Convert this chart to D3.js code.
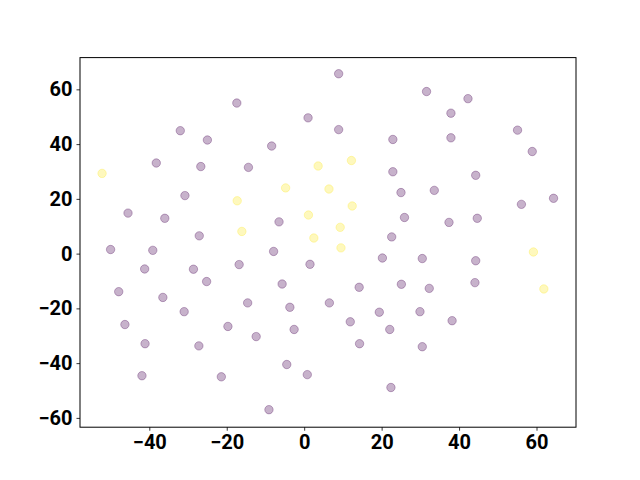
<!DOCTYPE html>
<html>
<head>
<meta charset="utf-8">
<script src="https://cdn.jsdelivr.net/npm/d3@7"></script>
<style>
  body { margin: 0; background: #fff; }
  .tick text { font-family: Roboto, "Liberation Sans", sans-serif; font-weight: bold; font-size: 20px; fill: #000; }
</style>
</head>
<body>
<div id="figure_area"></div>
<script>
// ----- ----- ----- ----- ----- ----- ----- ----- -----
// DATA
var purpleX = [8.9, -17.4, 31.6, 42.3, 37.9, 1.0, -32.0, 8.9, -25.0, 22.9,
    37.9, 55.1, -8.4, 58.9, -38.2, -26.7, -14.4, 22.9, 44.3, -30.8,
    25.0, 33.6, 64.4, -45.5, -36.0, -6.5, 25.9, 37.4, 44.7, 56.1,
    -27.1, 22.6, -50.0, -39.1, -7.9, 20.2, 30.5, 44.3, -41.2, -28.6,
    -16.8, 1.5, -25.2, -5.7, 14.2, 25.1, 32.3, 44.1, -47.9, -36.5,
    -14.6, -3.7, 6.5, -31.0, 19.4, 29.9, 11.9, 38.2, -46.3, -19.7,
    -2.6, 22.1, -12.4, -41.1, -27.2, 14.3, 30.5, -4.5, -41.9, -21.4,
    0.8, 22.4, -9.1];
var purpleY = [65.7, 55.0, 59.2, 56.6, 51.3, 49.6, 44.9, 45.3, 41.5, 41.7,
    42.3, 45.1, 39.3, 37.3, 33.1, 31.8, 31.5, 29.9, 28.6, 21.2,
    22.3, 23.1, 20.2, 14.8, 12.9, 11.6, 13.2, 11.4, 12.9, 18.0,
    6.5, 6.1, 1.5, 1.2, 0.8, -1.6, -1.8, -2.6, -5.6, -5.7,
    -4.0, -3.9, -10.2, -11.1, -12.3, -11.2, -12.7, -10.6, -13.9, -16.0,
    -18.0, -19.6, -18.0, -21.2, -21.4, -21.2, -24.9, -24.5, -25.9, -26.6,
    -27.7, -27.7, -30.3, -32.9, -33.7, -32.9, -34.0, -40.5, -44.6, -45.0,
    -44.2, -48.9, -57.0];

var yellowX = [-52.2, -17.3, -16.1, 3.6, 12.2, -4.8, 6.4, 12.4, 1.1, 9.3, 2.5, 9.5, 59.2, 61.9];
var yellowY = [29.3, 19.3, 8.1, 32.0, 34.0, 24.0, 23.6, 17.4, 14.1, 9.6, 5.7, 2.1, 0.6, -12.9];

var xTicks = [-40, -20, 0, 20, 40, 60];
var yTicks = [-60, -40, -20, 0, 20, 40, 60];

var points = [];
purpleX.forEach(function (x, i) { points.push({ x: x, y: purpleY[i], c: 0 }); });
yellowX.forEach(function (x, i) { points.push({ x: x, y: yellowY[i], c: 1 }); });

// ----- ----- ----- ----- ----- ----- ----- ----- -----
// FIGURE
const figure_size = { width: 640, height: 480, left: 80, right: 576, top: 57.6, bottom: 427.2 };
const colors = ["#440154", "#fde725"];

var svg = d3.select("#figure_area")
    .append("svg")
    .attr("width", figure_size.width)
    .attr("height", figure_size.height);

var x_scale = d3.scaleLinear()
    .domain([-57.9, 70.2])
    .range([figure_size.left, figure_size.right]);

var y_scale = d3.scaleLinear()
    .domain([-63.4, 71.6])
    .range([figure_size.bottom, figure_size.top]);

// points
svg.append("g")
    .selectAll("circle")
    .data(points)
    .enter()
    .append("circle")
    .attr("cx", function (d) { return x_scale(d.x); })
    .attr("cy", function (d) { return y_scale(d.y); })
    .attr("r", 4.2)
    .attr("fill", function (d) { return colors[d.c]; })
    .attr("fill-opacity", 0.3)
    .attr("stroke", function (d) { return colors[d.c]; })
    .attr("stroke-opacity", 0.3)
    .attr("stroke-width", 1);

// X axis
var x_axis = d3.axisBottom(x_scale)
    .tickValues(xTicks)
    .tickSize(3.5)
    .tickPadding(4)
    .tickFormat(function (d) { return String(d).replace("-", "\u2212"); });

svg.append("g")
    .attr("transform", "translate(0," + figure_size.bottom + ")")
    .call(x_axis)
    .call(function (g) { g.select(".domain").remove(); });

// Y axis
var y_axis = d3.axisLeft(y_scale)
    .tickValues(yTicks)
    .tickSize(3.5)
    .tickPadding(4)
    .tickFormat(function (d) { return String(d).replace("-", "\u2212"); });

svg.append("g")
    .attr("transform", "translate(" + figure_size.left + ",0)")
    .call(y_axis)
    .call(function (g) { g.select(".domain").remove(); });

// frame
svg.append("rect")
    .attr("x", figure_size.left)
    .attr("y", figure_size.top)
    .attr("width", figure_size.right - figure_size.left)
    .attr("height", figure_size.bottom - figure_size.top)
    .attr("fill", "none")
    .attr("stroke", "black")
    .attr("stroke-width", 1);

svg.selectAll(".tick line").attr("stroke", "black").attr("stroke-width", 0.8);
</script>
</body>
</html>
